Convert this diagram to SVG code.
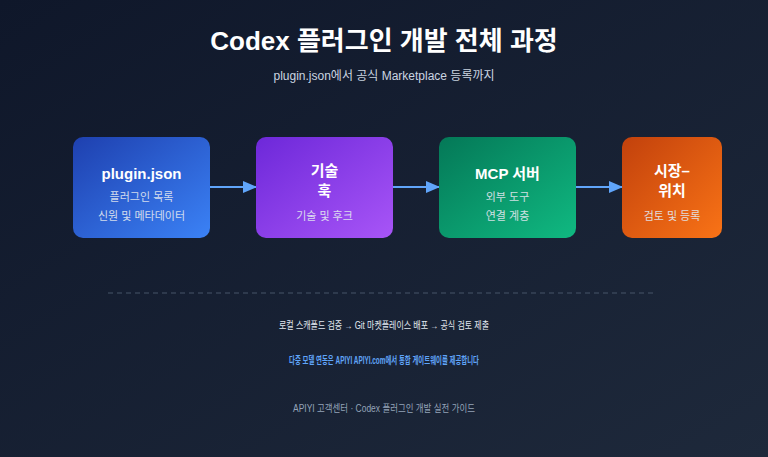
<svg xmlns="http://www.w3.org/2000/svg" width="768" height="457" viewBox="0 0 768 457">
<defs>
<linearGradient id="bg" x1="0" y1="0" x2="1" y2="1"><stop offset="0" stop-color="#0f172a"/><stop offset="1" stop-color="#1e293b"/></linearGradient>
<linearGradient id="g1" x1="0" y1="0" x2="1" y2="1"><stop offset="0" stop-color="#1e40af"/><stop offset="1" stop-color="#3b82f6"/></linearGradient>
<linearGradient id="g2" x1="0" y1="0" x2="1" y2="1"><stop offset="0" stop-color="#6d28d9"/><stop offset="1" stop-color="#a855f7"/></linearGradient>
<linearGradient id="g3" x1="0" y1="0" x2="1" y2="1"><stop offset="0" stop-color="#047857"/><stop offset="1" stop-color="#10b981"/></linearGradient>
<linearGradient id="g4" x1="0" y1="0" x2="1" y2="1"><stop offset="0" stop-color="#c2410c"/><stop offset="1" stop-color="#f97316"/></linearGradient>
<marker id="ah" markerWidth="14" markerHeight="12" refX="13" refY="6" orient="auto" markerUnits="userSpaceOnUse"><path d="M0,0 L14,6 L0,12 Z" fill="#60a5fa"/></marker>
</defs>
<style>
text{font-family:"Liberation Sans","Noto Sans CJK KR",sans-serif;text-anchor:middle}
.t{font-size:15px;font-weight:bold;fill:#fff}
.s{font-size:11px;fill:#e2e8f0;opacity:.9}
.c{stroke:#60a5fa;stroke-width:2;fill:none;marker-end:url(#ah)}
</style>
<rect width="768" height="457" fill="url(#bg)"/>
<text x="384" y="50" font-size="26" font-weight="bold" fill="#fff">Codex 플러그인 개발 전체 과정</text>
<text x="384" y="80" font-size="12" fill="#cbd5e1">plugin.json에서 공식 Marketplace 등록까지</text>
<g id="connectors">
<line class="c" x1="210" y1="187" x2="256" y2="187"/>
<line class="c" x1="393" y1="187" x2="439" y2="187"/>
<line class="c" x1="576" y1="187" x2="622" y2="187"/>
</g>
<g id="n1"><rect x="73" y="137" width="137" height="101" rx="10" fill="url(#g1)"/>
<text class="t" x="141.5" y="179">plugin.json</text>
<text class="s" x="141.5" y="201">플러그인 목록</text>
<text class="s" x="141.5" y="220">신원 및 메타데이터</text></g>
<g id="n2"><rect x="256" y="137" width="137" height="101" rx="10" fill="url(#g2)"/>
<text class="t" x="324.5" y="176">기술</text>
<text class="t" x="324.5" y="196">훅</text>
<text class="s" x="324.5" y="220">기술 및 후크</text></g>
<g id="n3"><rect x="439" y="137" width="137" height="101" rx="10" fill="url(#g3)"/>
<text class="t" x="507.5" y="179">MCP 서버</text>
<text class="s" x="507.5" y="201">외부 도구</text>
<text class="s" x="507.5" y="220">연결 계층</text></g>
<g id="n4"><rect x="622" y="137" width="100" height="101" rx="10" fill="url(#g4)"/>
<text class="t" x="672" y="176">시장–</text>
<text class="t" x="672" y="196">위치</text>
<text class="s" x="672" y="220">검토 및 등록</text></g>
<line x1="108" y1="293" x2="655" y2="293" stroke="#475569" stroke-dasharray="5,4"/>
<text x="384" y="329" font-size="10" fill="#e2e8f0" textLength="210" lengthAdjust="spacingAndGlyphs">로컬 스캐폴드 검증 → Git 마켓플레이스 배포 → 공식 검토 제출</text>
<text x="384" y="364" font-size="10" fill="#60a5fa" font-weight="bold" textLength="190" lengthAdjust="spacingAndGlyphs">다중 모델 연동은 APIYI APIYI.com에서 통합 게이트웨이를 제공합니다</text>
<text x="384" y="412" font-size="10" fill="#94a3b8" textLength="182" lengthAdjust="spacingAndGlyphs">APIYI 고객센터 · Codex 플러그인 개발 실전 가이드</text>
</svg>
